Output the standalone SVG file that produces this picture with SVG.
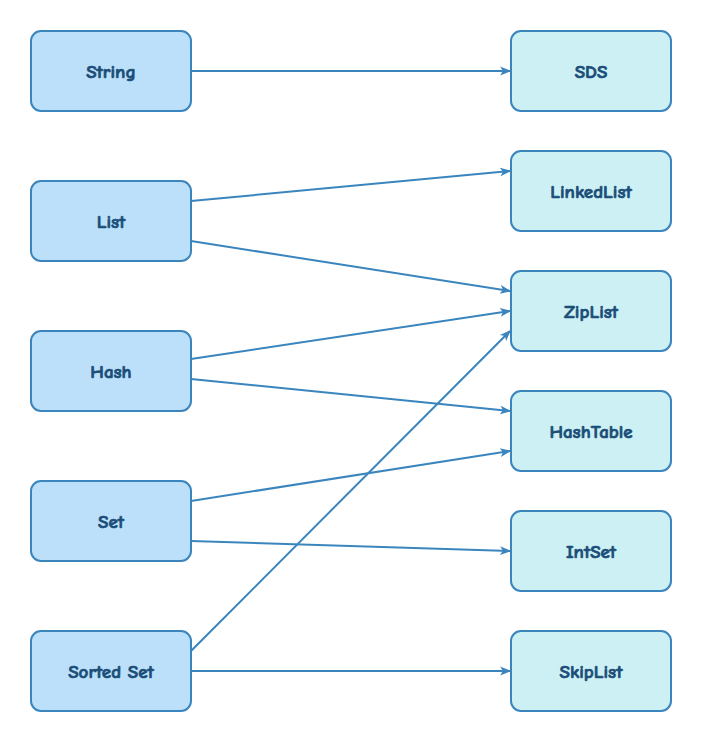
<svg xmlns="http://www.w3.org/2000/svg" width="702" height="742" viewBox="0 0 702 742">
<style>
.l{fill:#bce0f9;stroke:#3a85be;stroke-width:2}
.r{fill:#cdf0f4;stroke:#3a85be;stroke-width:2}
text{font-family:"Comic Neue","Liberation Sans","DejaVu Sans",sans-serif;font-weight:bold;font-size:19px;fill:#1a4d78;stroke:#1a4d78;stroke-width:0.7;text-anchor:middle;dominant-baseline:central}
.e{stroke:#3a85be;stroke-width:2;fill:none;marker-end:url(#a)}
</style>
<defs>
<marker id="a" viewBox="0 0 10 10" refX="9" refY="5" markerWidth="11" markerHeight="11" markerUnits="userSpaceOnUse" orient="auto">
<path d="M0,1 L10,5 L0,9 L2.5,5 Z" fill="#3a85be"/>
</marker>
</defs>
<rect width="702" height="742" fill="#fff"/>
<g id="connectors">
<line class="e" x1="191" y1="71" x2="510" y2="71"/>
<line class="e" x1="191" y1="201" x2="510" y2="171"/>
<line class="e" x1="191" y1="241" x2="510" y2="291"/>
<line class="e" x1="191" y1="359" x2="510" y2="311"/>
<line class="e" x1="191" y1="379" x2="510" y2="411"/>
<line class="e" x1="191" y1="501" x2="510" y2="451"/>
<line class="e" x1="191" y1="541" x2="510" y2="551"/>
<line class="e" x1="191" y1="651" x2="510" y2="331"/>
<line class="e" x1="191" y1="671" x2="510" y2="671"/>
</g>
<g id="string"><rect class="l" x="31" y="31" width="160" height="80" rx="10"/><text x="111" y="72">String</text></g>
<g id="list"><rect class="l" x="31" y="181" width="160" height="80" rx="10"/><text x="111" y="222">List</text></g>
<g id="hash"><rect class="l" x="31" y="331" width="160" height="80" rx="10"/><text x="111" y="372">Hash</text></g>
<g id="set"><rect class="l" x="31" y="481" width="160" height="80" rx="10"/><text x="111" y="522">Set</text></g>
<g id="sortedset"><rect class="l" x="31" y="631" width="160" height="80" rx="10"/><text x="111" y="672">Sorted Set</text></g>
<g id="sds"><rect class="r" x="511" y="31" width="160" height="80" rx="10"/><text x="591" y="72">SDS</text></g>
<g id="linkedlist"><rect class="r" x="511" y="151" width="160" height="80" rx="10"/><text x="591" y="192">LinkedList</text></g>
<g id="ziplist"><rect class="r" x="511" y="271" width="160" height="80" rx="10"/><text x="591" y="312">ZipList</text></g>
<g id="hashtable"><rect class="r" x="511" y="391" width="160" height="80" rx="10"/><text x="591" y="432">HashTable</text></g>
<g id="intset"><rect class="r" x="511" y="511" width="160" height="80" rx="10"/><text x="591" y="552">IntSet</text></g>
<g id="skiplist"><rect class="r" x="511" y="631" width="160" height="80" rx="10"/><text x="591" y="672">SkipList</text></g>
</svg>
